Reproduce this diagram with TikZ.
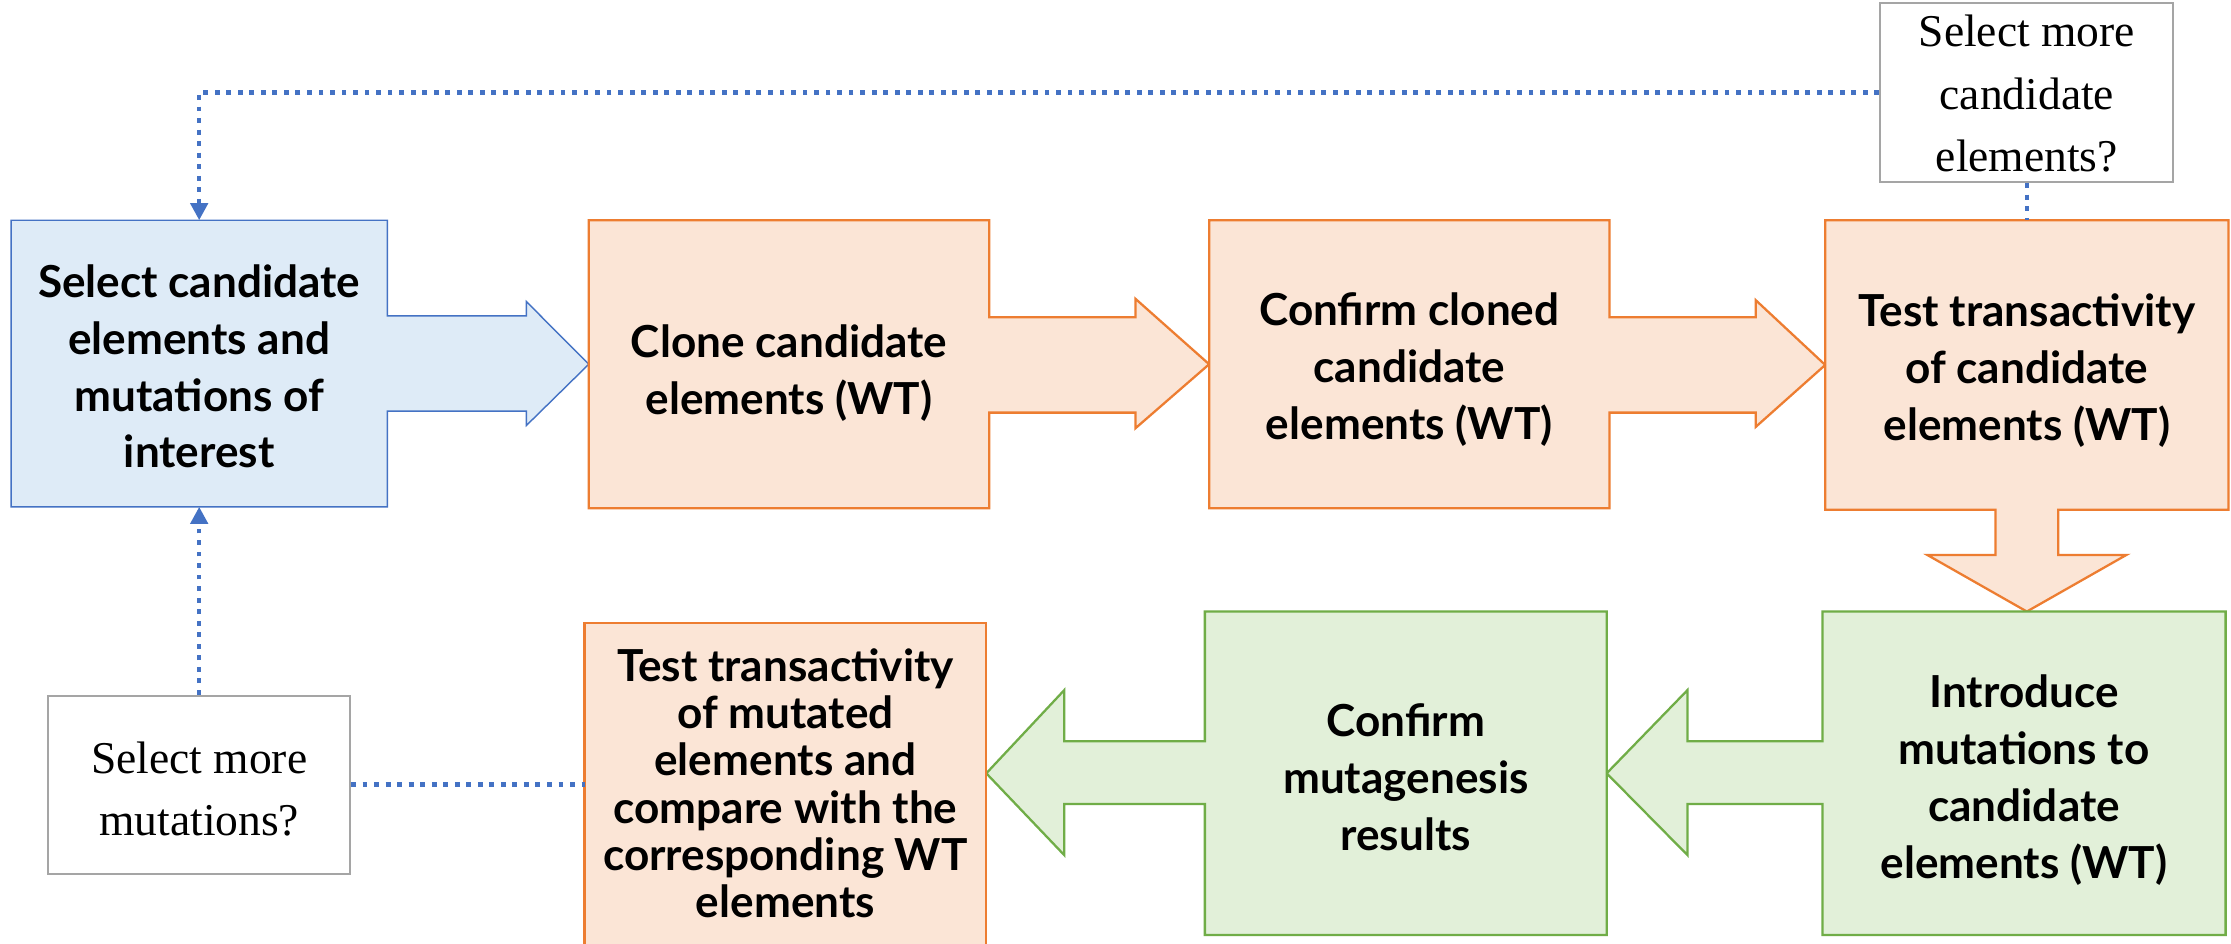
\documentclass[tikz,border=0pt]{standalone}
\usepackage{fontspec}
\setmainfont{Lato}
\newfontfamily\qfont{Liberation Serif}
\usetikzlibrary{calc,backgrounds,arrows.meta}
\definecolor{bluebd}{HTML}{4472C4}
\definecolor{bluefill}{HTML}{DEEBF7}
\definecolor{orbd}{HTML}{ED7D31}
\definecolor{orfill}{HTML}{FBE5D6}
\definecolor{grbd}{HTML}{70AD47}
\definecolor{grfill}{HTML}{E2F0D9}
\definecolor{graybd}{HTML}{A5A5A5}
\tikzset{
  boxsh/.style={rectangle, inner sep=0pt},
  steptext/.style={inner sep=0pt, align=center, font=\bfseries\fontsize{31}{40}\selectfont},
  qbox/.style={rectangle, draw=graybd, line width=1.5pt, fill=white, inner sep=0pt},
  qtext/.style={inner sep=0pt, align=center, font=\qfont\fontsize{32}{44}\selectfont},
  blueshape/.style={draw=bluebd, fill=bluefill, line width=1pt},
  orshape/.style={draw=orbd, fill=orfill, line width=1.6pt},
  grshape/.style={draw=grbd, fill=grfill, line width=1.6pt},
  loopline/.style={draw=bluebd, line width=3.2pt, dash pattern=on 3.4pt off 4.7pt},
  looparrow/.style={loopline, -{Triangle[length=12pt,width=12pt]}}
}
\begin{document}
\begin{tikzpicture}[x=1pt,y=-1pt]
\useasboundingbox (0,0) rectangle (1568,663);
% step boxes
\node[boxsh, minimum width=264pt, minimum height=201pt] (A) at (140,255.5) {};
\node[boxsh, minimum width=281pt, minimum height=202pt] (B) at (554.5,256) {};
\node[boxsh, minimum width=281pt, minimum height=202pt] (C) at (990.5,256) {};
\node[boxsh, minimum width=283pt, minimum height=203pt] (D) at (1424.5,256.5) {};
\node[boxsh, minimum width=283pt, minimum height=227pt] (E) at (1422.5,543.5) {};
\node[boxsh, minimum width=282pt, minimum height=227pt] (F) at (988,543.5) {};
\node[boxsh, minimum width=282pt, minimum height=232pt] (G) at (552,554) {};
% step texts
\node[steptext] (At) at ([yshift=-2pt]A.center) {Select candidate\\elements and\\mutations of\\interest};
\node[steptext] (Bt) at ([yshift=-6pt]B.center) {Clone candidate\\elements (WT)};
\node[steptext] (Ct) at ([yshift=-4pt]C.center) {Confirm cloned\\candidate\\elements (WT)};
\node[steptext] (Dt) at ([yshift=-4pt]D.center) {Test transactivity\\of candidate\\elements (WT)};
\node[steptext] (Et) at ([yshift=-5pt]E.center) {Introduce\\mutations to\\candidate\\elements (WT)};
\node[steptext] (Ft) at ([yshift=-3pt]F.center) {Confirm\\mutagenesis\\results};
\node[steptext, font=\bfseries\fontsize{31}{33.2}\selectfont] (Gt) at (552,550.5) {Test transactivity\\of mutated\\elements and\\compare with the\\corresponding WT\\elements};
% question boxes
\node[qbox, minimum width=206pt, minimum height=126pt] (S1) at (1424.5,65) {};
\node[qtext] (S1t) at ([yshift=-1pt]S1.center) {Select more\\candidate\\elements?};
\node[qbox, minimum width=212pt, minimum height=125pt] (S2) at (140,551.5) {};
\node[qtext] (S2t) at ([yshift=-3pt]S2.center) {Select more\\mutations?};
% block arrows
\begin{scope}[on background layer]
\fill[white] (0,0) rectangle (1568,663);
\coordinate (a1) at (370,222); \coordinate (a2) at (370,212);
\coordinate (a3) at (370,299); \coordinate (a4) at (370,289);
\coordinate (b1) at (798,223); \coordinate (b2) at (798,210);
\coordinate (b3) at (798,301); \coordinate (b4) at (798,290);
\coordinate (c1) at (1234,223); \coordinate (c2) at (1234,211);
\coordinate (c3) at (1234,300); \coordinate (c4) at (1234,290);
\coordinate (d1) at (1446.5,390); \coordinate (d2) at (1494.5,390);
\coordinate (d3) at (1354.5,390); \coordinate (d4) at (1402.5,390);
\coordinate (e1) at (1186,565); \coordinate (e2) at (1186,601);
\coordinate (e3) at (1186,485); \coordinate (e4) at (1186,521);
\coordinate (f1) at (748,565); \coordinate (f2) at (748,601);
\coordinate (f3) at (748,485); \coordinate (f4) at (748,521);
\path[blueshape] (A.north west) -- (A.north east) -- (A.east |- a1) -- (a1) -- (a2) -- (B.west) -- (a3) -- (a4) -- (A.east |- a4) -- (A.south east) -- (A.south west) -- cycle;
\path[orshape] (B.north west) -- (B.north east) -- (B.east |- b1) -- (b1) -- (b2) -- (C.west) -- (b3) -- (b4) -- (B.east |- b4) -- (B.south east) -- (B.south west) -- cycle;
\path[orshape] (C.north west) -- (C.north east) -- (C.east |- c1) -- (c1) -- (c2) -- (D.west) -- (c3) -- (c4) -- (C.east |- c4) -- (C.south east) -- (C.south west) -- cycle;
\path[orshape] (D.north west) -- (D.north east) -- (D.south east) -- (D.south -| d1) -- (d1) -- (d2) -- (D.south |- E.north) -- (d3) -- (d4) -- (D.south -| d4) -- (D.south west) -- cycle;
\path[grshape] (E.north west) -- (E.north east) -- (E.south east) -- (E.south west) -- (E.west |- e1) -- (e1) -- (e2) -- (F.east) -- (e3) -- (e4) -- (E.west |- e4) -- cycle;
\path[grshape] (F.north west) -- (F.north east) -- (F.south east) -- (F.south west) -- (F.west |- f1) -- (f1) -- (f2) -- (F.west -| G.east) -- (f3) -- (f4) -- (F.west |- f4) -- cycle;
\path[orshape] (G.north west) rectangle (G.south east);
\end{scope}
% feedback loops
\draw[looparrow] (S1.west) -| (A.north);
\draw[loopline] (S1.south) -- (D.north);
\draw[looparrow] (S2.north) -- (A.south);
\draw[loopline] (S2.east) -- (S2.east -| G.west);
\end{tikzpicture}
\end{document}
